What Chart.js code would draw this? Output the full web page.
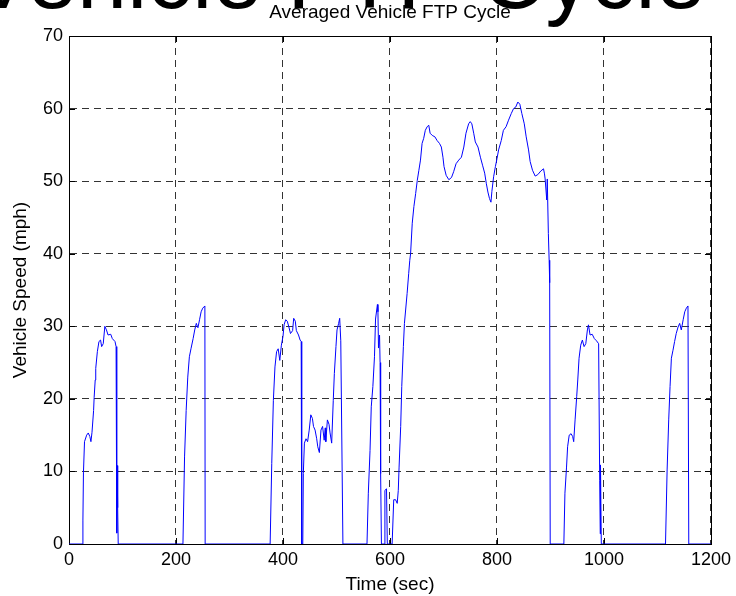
<!DOCTYPE html>
<html>
<head>
<meta charset="utf-8">
<title>Averaged Vehicle FTP Cycle</title>
<script src="https://cdn.jsdelivr.net/npm/chart.js@4.4.1/dist/chart.umd.min.js"></script>
<style>
  html, body { margin: 0; padding: 0; background: #fff; overflow: hidden; }
  #wrap { position: relative; width: 736px; height: 596px; overflow: hidden; }
  #bigText {
    position: absolute; left: -28px; top: -68px; white-space: nowrap;
    font-family: "Liberation Sans", Arial, sans-serif; font-size: 90px; line-height: 1; color: #000;
  }
  canvas { position: absolute; left: 0; top: 0; }
</style>
</head>
<body>
<div id="wrap">
  <div id="bigText">Vehicle FTP Cycle</div>
  <canvas id="speedChart" width="736" height="596"></canvas>
</div>
<script>
// time (sec) and averaged speed (mph)
const timeSec = [
  0, 25, 26, 27, 29, 33, 36, 39, 41, 43, 46, 47, 49, 50, 53, 56, 59, 61, 64, 67, 70, 73, 78, 81, 86, 88, 89, 89.5, 90, 91, 92,
  213, 216, 219, 222, 225, 228, 232, 235, 238, 241, 244, 247, 250, 254, 254.5,
  376, 379, 382, 385, 388, 391, 394, 397, 400, 402, 405, 408, 411, 414, 418, 420, 423, 425, 429, 432, 434, 435, 437,
  438, 440, 443, 446, 449, 452, 455, 457, 460, 463, 465, 468, 471, 474, 477, 479, 480, 483, 486, 488, 491,
  494, 496, 499, 501, 504, 506, 508, 512,
  557, 559.5, 562.7, 565, 568, 571, 573, 576.5, 577.5, 578.5, 580.5, 581.5, 582.5, 584, 589, 590.5, 593.5, 595,
  604, 607, 610.5, 613.5, 615.5, 617, 620, 622, 625, 627, 632, 635, 637, 638.5, 641.6, 644.7, 648, 651, 654, 657,
  660, 663, 666, 669.5, 672.5, 675, 679, 684, 688, 692.5, 696, 699, 701, 705, 710, 715, 719, 723.5, 728.5, 733.5,
  738, 742, 747, 750, 753, 756.5, 759.5, 764.5, 769, 773, 777, 780, 783, 786, 788.7, 790.5, 793.7, 797, 800, 803,
  808, 812, 817, 821.6, 826.6, 831, 835, 839, 842.7, 846.5, 851, 854.6, 859, 862, 866.4, 871.4, 876.3, 882, 887,
  888.8, 890, 893, 894, 896, 897.5, 898.5, 899.5,
  925, 927, 930, 932, 935, 938.5, 941.5, 943.4, 946, 949, 951, 953.4, 956.5, 959.6, 962.8, 966, 969, 971, 974, 978,
  982, 986, 990, 992, 993, 993.5, 995,
  1115, 1118, 1121, 1123.5, 1126, 1129, 1132, 1135, 1138.5, 1141.5, 1144.5, 1148, 1151, 1154, 1157, 1158.5, 1200
];
const speedMph = [
  0, 0, 3.3, 9.8, 14.1, 15, 15.3, 14.8, 14.1, 15.4, 18.4, 20.2, 22.6, 24.2, 26.5, 27.9, 28.1, 27.2, 27.6, 30, 29.5, 28.8, 28.9, 28.3, 27.9, 27.2, 8, 1.5, 10.8, 5, 0,
  0, 12, 18.4, 23, 25.8, 26.9, 28.3, 29.5, 30.4, 29.8, 30.9, 32, 32.5, 32.8, 0,
  0, 11.1, 19.8, 24.4, 26.5, 26.9, 25.3, 27.4, 28.6, 30.2, 30.9, 30.7, 29.9, 29, 29.4, 31.1, 30.7, 29.4, 28.8, 28.1, 27.9, 0, 0,
  9.7, 13.9, 14.5, 14.1, 15.7, 17.8, 17.3, 16.2, 15.7, 14.5, 13.4, 12.6, 15.7, 16.2, 14.3, 16, 14.1, 17.1, 16.5, 15.3, 13.9,
  19.8, 23.5, 27.2, 29.5, 30.4, 31.1, 28, 0,
  0, 7, 12.9, 18.9, 21.7, 25.8, 31, 33, 32, 27, 28.8, 25, 9.7, 0, 0, 7.4, 7.6, 0,
  0, 6.1, 6.1, 5.6, 7.4, 10.6, 16.2, 21.7, 27.2, 30.4, 34.5, 37.3, 39.1, 40, 44.2, 46.5, 48.3, 50.1, 51.5, 52.9,
  55.2, 55.9, 57, 57.5, 57.7, 56.6, 56.3, 56.1, 55.6, 55.2, 54.7, 53.3, 52, 50.8, 50.2, 50.5, 51.3, 52.4, 52.9, 53.3,
  54.7, 56.6, 57.9, 58.2, 57.9, 56.6, 55.4, 54.7, 53.3, 52.2, 51.1, 49.7, 48.5, 47.6, 47.1, 48.6, 50.6, 52, 53.1, 54.3,
  55.6, 57, 57.5, 58.4, 59.3, 60, 60.2, 60.9, 60.6, 59.3, 57.9, 56.1, 54.3, 52.7, 51.5, 50.7, 50.9, 51.4, 51.7,
  51, 50.3, 47.4, 50.3, 42.8, 39.1, 36, 0,
  0, 7, 10.6, 13.4, 15, 15.2, 14.8, 14.1, 17.1, 20.3, 22.6, 25.6, 27.4, 28.1, 27.2, 27.6, 29.5, 30.2, 28.8, 28.9,
  28.3, 28, 27.6, 8.7, 1.4, 10.9, 0,
  0, 10.2, 17.1, 21.7, 25.6, 26.7, 27.9, 29, 29.9, 30.4, 29.5, 30.9, 32, 32.5, 32.8, 0, 0
];
const xTicks = [0, 200, 400, 600, 800, 1000, 1200];
const yTicks = [0, 10, 20, 30, 40, 50, 60, 70];

const points = timeSec.map((t, i) => ({ x: t, y: speedMph[i] }));
const FONT = '"Liberation Sans", Arial, Helvetica, sans-serif';

// matlab style box with inward ticks, drawn under the trace
const boxPlugin = {
  id: 'boxPlugin',
  beforeDatasetsDraw(chart) {
    const { ctx, chartArea: a, scales } = chart;
    ctx.save();
    ctx.strokeStyle = '#000';
    ctx.lineWidth = 1;
    ctx.beginPath();
    xTicks.forEach(v => {
      const px = Math.round(scales.x.getPixelForValue(v)) + 0.5;
      ctx.moveTo(px, a.bottom); ctx.lineTo(px, a.bottom - 6);
      ctx.moveTo(px, a.top); ctx.lineTo(px, a.top + 6);
    });
    yTicks.forEach(v => {
      const py = Math.round(scales.y.getPixelForValue(v)) + 0.5;
      ctx.moveTo(a.left, py); ctx.lineTo(a.left + 6, py);
      ctx.moveTo(a.right, py); ctx.lineTo(a.right - 6, py);
    });
    ctx.stroke();
    ctx.strokeRect(Math.round(a.left) + 0.5, Math.round(a.top) + 0.5,
      Math.round(a.right - a.left), Math.round(a.bottom - a.top));
    ctx.restore();
  }
};

new Chart(document.getElementById('speedChart'), {
  type: 'line',
  data: {
    datasets: [{
      label: 'Vehicle Speed',
      data: points,
      borderColor: '#0000ff',
      borderWidth: 1,
      pointRadius: 0,
      tension: 0,
      fill: false
    }]
  },
  options: {
    responsive: false,
    animation: false,
    layout: { padding: { top: 0, right: 23, left: 0, bottom: 0 } },
    plugins: {
      legend: { display: false },
      tooltip: { enabled: false },
      title: {
        display: true,
        fullSize: false, // centre over the axes, like matlab
        text: 'Averaged Vehicle FTP Cycle',
        color: '#000',
        font: { family: FONT, size: 19, weight: 'normal' },
        padding: { top: 1, bottom: 12.2 }
      }
    },
    scales: {
      x: {
        type: 'linear',
        min: 0, max: 1200,
        afterFit(s) { s.height = 52; },
        afterBuildTicks(s) { s.ticks = xTicks.map(v => ({ value: v })); },
        ticks: { color: '#000', font: { family: FONT, size: 18 }, padding: 5, maxRotation: 0, callback: v => String(v) },
        grid: { color: '#333', lineWidth: 1, drawTicks: false },
        border: { display: true, color: '#000', dash: [7, 5] },
        title: { display: true, text: 'Time (sec)', color: '#000', font: { family: FONT, size: 19 }, padding: { top: 0, bottom: 0 } }
      },
      y: {
        min: 0, max: 70,
        afterFit(s) { s.width = 69; },
        afterBuildTicks(s) { s.ticks = yTicks.map(v => ({ value: v })); },
        ticks: { color: '#000', font: { family: FONT, size: 18 }, padding: 6, callback: v => String(v) },
        grid: { color: '#333', lineWidth: 1, drawTicks: false },
        border: { display: true, color: '#000', dash: [7, 5] },
        title: { display: true, text: 'Vehicle Speed (mph)', color: '#000', font: { family: FONT, size: 19 }, padding: { top: 9, bottom: 0 } }
      }
    }
  },
  plugins: [boxPlugin]
});
</script>
</body>
</html>
